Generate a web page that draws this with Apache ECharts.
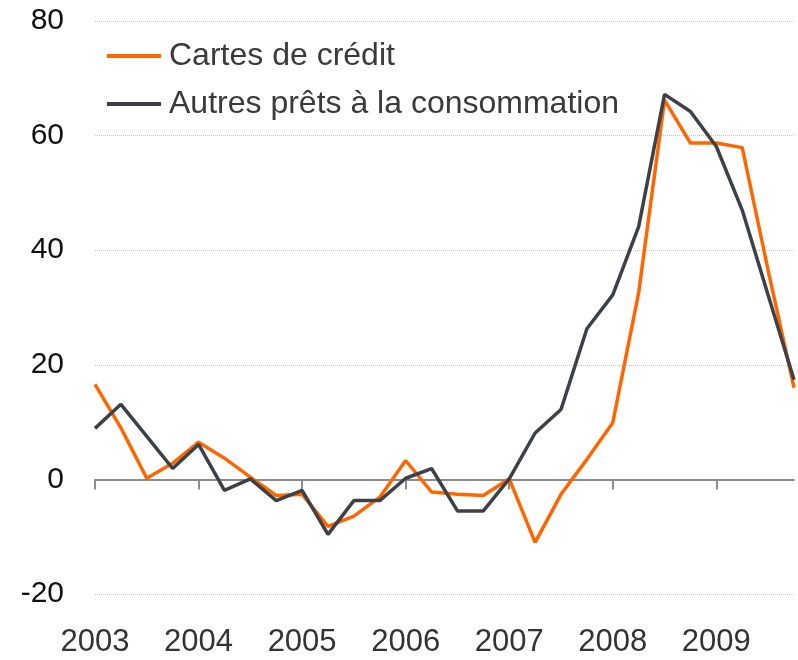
<!DOCTYPE html>
<html>
<head>
<meta charset="utf-8">
<script src="https://cdn.jsdelivr.net/npm/echarts@6/dist/echarts.min.js"></script>
<style>
  html, body { margin: 0; padding: 0; background: #fff; }
  #chart { width: 798px; height: 660px; }
</style>
</head>
<body>
<div id="chart"></div>
<script>
// trimestres 2003 T1 -> 2009 T4
const years = ['2003', '2004', '2005', '2006', '2007', '2008', '2009']
const quarters = ['T1', 'T2', 'T3', 'T4']
const categories = []
years.forEach(y => quarters.forEach(q => categories.push(y + ' ' + q)))

const cartesCredit = [
  16.6, 9.0, 0.2, 2.8,
  6.5, 3.7, 0.4, -2.8,
  -2.6, -8.2, -6.4, -3.1,
  3.3, -2.2, -2.6, -2.8,
  0.1, -11.0, -2.6, 3.5,
  9.9, 32.6, 66.2, 58.7,
  58.7, 57.9, 36.5, 16.0
]
const autresPrets = [
  8.9, 13.1, 7.5, 1.9,
  6.1, -1.9, 0.1, -3.7,
  -1.9, -9.6, -3.7, -3.7,
  0.2, 1.9, -5.5, -5.5,
  0.1, 8.1, 12.2, 26.3,
  32.2, 44.1, 67.2, 64.2,
  58.1, 47.0, 32.2, 17.4
]

const font = 'Liberation Sans, Arial, sans-serif'
const chart = echarts.init(document.getElementById('chart'), null, { renderer: 'canvas' })

chart.setOption({
  animation: false,
  grid: {
    left: 95,
    right: 4,
    top: 21,
    bottom: 66,
    containLabel: false,
    outerBoundsMode: 'none'
  },
  legend: {
    orient: 'vertical',
    left: 102,
    top: 35,
    icon: 'rect',
    itemWidth: 54,
    itemHeight: 4,
    itemGap: 16,
    textStyle: {
      fontFamily: font,
      fontSize: 32,
      lineHeight: 32,
      color: '#3a3a3a',
      padding: [0, 0, 0, 3]
    },
    data: ['Cartes de crédit', 'Autres prêts à la consommation']
  },
  xAxis: {
    type: 'category',
    data: categories,
    boundaryGap: false,
    axisLine: {
      onZero: true,
      lineStyle: { color: '#8c8c8c', width: 2 }
    },
    axisTick: {
      interval: 3,
      length: 10,
      lineStyle: { color: '#8c8c8c', width: 2 }
    },
    axisLabel: {
      interval: 3,
      margin: 33,
      fontFamily: font,
      fontSize: 31,
      color: '#333',
      formatter: v => v.slice(0, 4)
    },
    splitLine: { show: false }
  },
  yAxis: {
    type: 'value',
    min: -20,
    max: 80,
    interval: 20,
    axisLine: { show: false },
    axisTick: { show: false },
    axisLabel: {
      margin: 31,
      fontFamily: font,
      fontSize: 30,
      color: '#111'
    },
    splitLine: {
      lineStyle: { color: '#c4c4c4', type: 'dotted', width: 1 }
    }
  },
  series: [
    {
      name: 'Cartes de crédit',
      type: 'line',
      data: cartesCredit,
      showSymbol: false,
      color: '#ff6600',
      lineStyle: { width: 3.5, color: '#ff6600' }
    },
    {
      name: 'Autres prêts à la consommation',
      type: 'line',
      data: autresPrets,
      showSymbol: false,
      color: '#3d4047',
      lineStyle: { width: 3.5, color: '#3d4047' }
    }
  ]
})
</script>
</body>
</html>
